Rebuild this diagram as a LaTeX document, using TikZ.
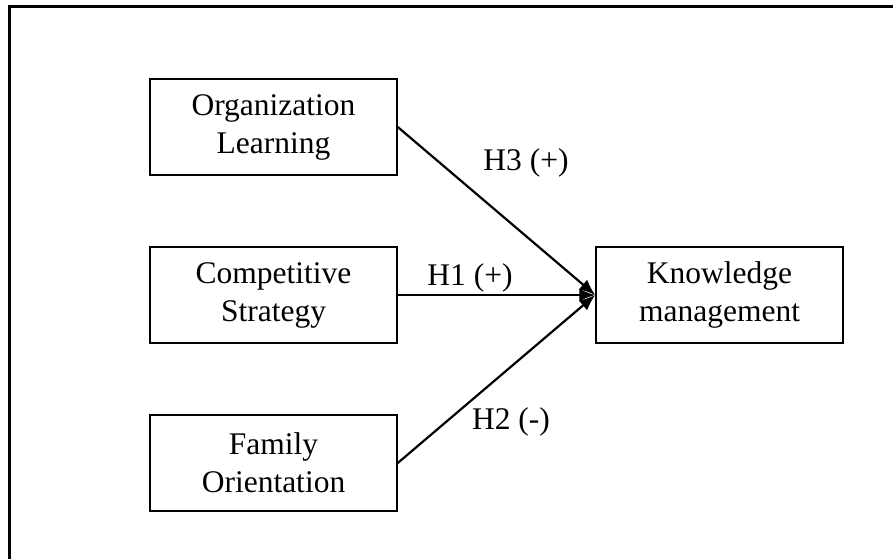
\documentclass[tikz,border=0pt]{standalone}
\usepackage{fontspec}
\setmainfont{Liberation Serif}
\usetikzlibrary{arrows.meta,positioning}

\begin{document}
\begin{tikzpicture}[x=1pt, y=-1pt, >={Latex[length=16pt,width=13pt]},
   font=\fontsize{31.5}{38}\selectfont,
   var/.style={draw, line width=1.5pt, minimum width=247pt, minimum height=96pt,
      inner sep=0pt, align=center},
   link/.style={line width=2.2pt},
   frame/.style={line width=3pt}]
   \useasboundingbox (0,0) rectangle (893,558);
   \clip (0,0) rectangle (893,558);
   \draw[frame] (9,6) rectangle (960,620);
   \node (ol) at (273.5,127) [var] {Organization\\Learning};
   \node (cs) at (273.5,295) [var] {Competitive\\Strategy};
   \node (fo) at (273.5,463) [var] {Family\\Orientation};
   \node (km) at (719.5,295) [var] {Knowledge\\management};
   \draw[->, link] (ol.east) -- (km.west);
   \draw[->, link] (cs.east) -- (km.west);
   \draw[->, link] (fo.east) -- (km.west);
   \node (h3) at (526,163) {H3 (+)};
   \node (h1) at (470,278) {H1 (+)};
   \node (h2) at (511,422) {H2 (-)};
\end{tikzpicture}
\end{document}
